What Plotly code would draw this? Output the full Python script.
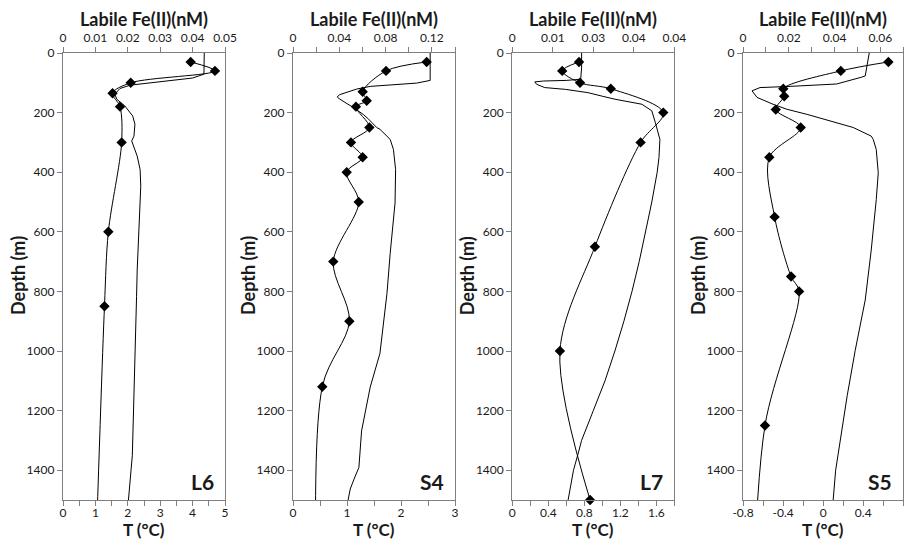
import plotly.graph_objects as go

# ---------------- DATA ----------------
# Station L6
L6_T_depth = [0, 20, 50, 71, 84, 108, 119, 138, 155, 178, 211, 239, 279, 295, 346, 391, 447, 560, 649, 728, 818, 897, 1000, 1100, 1200, 1301, 1350, 1400, 1450, 1500]
L6_T = [4.36, 4.36, 4.36, 4.35, 4.00, 2.07, 1.76, 1.60, 1.66, 1.91, 2.15, 2.22, 2.19, 2.12, 2.29, 2.38, 2.40, 2.35, 2.32, 2.29, 2.27, 2.25, 2.23, 2.21, 2.19, 2.17, 2.14, 2.10, 2.07, 2.02]
L6_Fe_depth = [30, 60, 100, 135, 180, 300, 600, 850, 2000]
L6_Fe = [0.0394, 0.0469, 0.0209, 0.0153, 0.0176, 0.0181, 0.0140, 0.0128, 0.0092]

# Station S4
S4_T_depth = [0, 50, 92, 101, 112, 121, 140, 148, 155, 170, 183, 206, 222, 250, 256, 290, 324, 391, 503, 672, 807, 1008, 1121, 1268, 1391, 1430, 1463, 1500]
S4_T = [2.54, 2.54, 2.54, 2.29, 1.43, 1.18, 0.86, 0.82, 0.87, 1.00, 1.12, 1.30, 1.40, 1.55, 1.61, 1.80, 1.86, 1.90, 1.89, 1.80, 1.74, 1.61, 1.43, 1.27, 1.22, 1.13, 1.06, 1.02]
S4_Fe_depth = [30, 60, 130, 160, 180, 250, 300, 350, 400, 500, 700, 900, 1120, 2000]
S4_Fe = [0.1155, 0.0804, 0.0602, 0.0637, 0.0544, 0.0660, 0.0501, 0.0602, 0.0464, 0.0568, 0.0348, 0.0487, 0.0253, 0.0215]

# Station L7
L7_T_depth = [0, 50, 88, 92, 94, 97, 105, 116, 122, 133, 145, 155, 172, 194, 234, 290, 350, 400, 500, 600, 700, 800, 900, 1000, 1100, 1200, 1300, 1346, 1400, 1450, 1500]
L7_T = [0.77, 0.77, 0.76, 0.60, 0.35, 0.25, 0.27, 0.36, 0.59, 0.84, 1.00, 1.14, 1.44, 1.55, 1.59, 1.64, 1.63, 1.61, 1.55, 1.48, 1.41, 1.33, 1.24, 1.14, 1.03, 0.90, 0.77, 0.73, 0.68, 0.65, 0.62]
L7_Fe_depth = [30, 60, 100, 120, 200, 300, 650, 1000, 1500]
L7_Fe = [0.0206, 0.0154, 0.0209, 0.0304, 0.0466, 0.0396, 0.0255, 0.0147, 0.0240]

# Station S5
S5_T_depth = [0, 43, 77, 81, 104, 112, 116, 127, 149, 172, 189, 206, 228, 250, 279, 290, 324, 402, 492, 661, 829, 998, 1150, 1301, 1400, 1500]
S5_T = [0.46, 0.44, 0.42, 0.385, 0.135, -0.33, -0.63, -0.71, -0.66, -0.50, -0.36, -0.16, 0.07, 0.30, 0.48, 0.50, 0.53, 0.55, 0.53, 0.48, 0.42, 0.32, 0.24, 0.17, 0.125, 0.10]
S5_Fe_depth = [30, 60, 120, 145, 190, 250, 350, 550, 750, 800, 1250, 1900]
S5_Fe = [0.0635, 0.0427, 0.0176, 0.0180, 0.0143, 0.0252, 0.0115, 0.0138, 0.0210, 0.0245, 0.0096, 0.0040]

station_names = ["L6", "S4", "L7", "S5"]
depth_ticks = [0, 200, 400, 600, 800, 1000, 1200, 1400]

# ---------------- LAYOUT ----------------
W, H = 909, 541
FONT = "Lato"
TXT = "#1a1a1a"
AX = "#7f7f7f"

def fx(px):
    return px / W

def fy(py):
    return 1 - py / H

top_px, bot_px = 53, 500
lefts = [63, 293, 512.3, 743]
widths = [162, 162, 162, 160.3]

panels = [
    dict(Td=L6_T_depth, T=L6_T, Fd=L6_Fe_depth, F=L6_Fe,
         trange=[0, 5], tdt=1, tminor=0.5, ttv=None, ttt=None,
         frange=[0, 0.05], fdt=0.01, fminor=None, ftv=None, ftt=None),
    dict(Td=S4_T_depth, T=S4_T, Fd=S4_Fe_depth, F=S4_Fe,
         trange=[0, 3], tdt=1, tminor=0.5, ttv=None, ttt=None,
         frange=[0, 0.14], fdt=None, fminor=0.02,
         ftv=[0, 0.04, 0.08, 0.12], ftt=["0", "0.04", "0.08", "0.12"]),
    dict(Td=L7_T_depth, T=L7_T, Fd=L7_Fe_depth, F=L7_Fe,
         trange=[0, 1.8], tdt=None, tminor=0.2,
         ttv=[0, 0.4, 0.8, 1.2, 1.6], ttt=["0", "0.4", "0.8", "1.2", "1.6"],
         frange=[0, 0.05], fdt=None, fminor=None,
         ftv=[0, 0.0125, 0.025, 0.0375, 0.05], ftt=["0", "0.01", "0.03", "0.04", "0.04"]),
    dict(Td=S5_T_depth, T=S5_T, Fd=S5_Fe_depth, F=S5_Fe,
         trange=[-0.8, 0.8], tdt=None, tminor=0.2,
         ttv=[-0.8, -0.4, 0, 0.4, 0.8], ttt=["-0.8", "-0.4", "0", "0.4", "0.8"],
         frange=[0, 0.07], fdt=None, fminor=0.01,
         ftv=[0, 0.02, 0.04, 0.06], ftt=["0", "0.02", "0.04", "0.06"]),
]

fig = go.Figure()
layout = dict(width=W, height=H, margin=dict(l=0, r=0, t=0, b=0, pad=0, autoexpand=False),
              paper_bgcolor="white", plot_bgcolor="white", showlegend=False,
              font=dict(family=FONT, color=TXT, size=12))
annotations = []

tickfont = dict(family=FONT, size=12, color=TXT)

for i, p in enumerate(panels):
    xt = 2 * i + 1
    xf = 2 * i + 2
    yi = i + 1
    xt_n = "x" if xt == 1 else f"x{xt}"
    xf_n = f"x{xf}"
    y_n = "y" if yi == 1 else f"y{yi}"
    dom = [fx(lefts[i]), fx(lefts[i] + widths[i])]
    ydom = [fy(bot_px), fy(top_px)]

    # temperature profile
    fig.add_trace(go.Scatter(x=p["T"], y=p["Td"], mode="lines",
                             line=dict(color="black", width=1),
                             xaxis=xt_n, yaxis=y_n, hoverinfo="skip"))
    # labile Fe(II) smoothed line
    fig.add_trace(go.Scatter(x=p["F"], y=p["Fd"], mode="lines",
                             line=dict(color="black", width=1, shape="spline", smoothing=0.9),
                             xaxis=xf_n, yaxis=y_n, hoverinfo="skip"))
    # markers (only those within the plotted depth range)
    mx = [f for f, d in zip(p["F"], p["Fd"]) if d <= 1500]
    my = [d for d in p["Fd"] if d <= 1500]
    fig.add_trace(go.Scatter(x=mx, y=my, mode="markers",
                             marker=dict(symbol="diamond", size=8, color="black"),
                             cliponaxis=False, xaxis=xf_n, yaxis=y_n, hoverinfo="skip"))

    xa = dict(domain=dom, anchor=y_n, side="bottom", range=p["trange"], automargin=False,
              showline=True, linecolor=AX, linewidth=1.3, ticks="outside",
              ticklen=5, tickcolor=AX, tickwidth=1, showgrid=False, zeroline=False,
              tickfont=tickfont, ticklabelstandoff=-4)
    if p["ttv"] is not None:
        xa.update(tickmode="array", tickvals=p["ttv"], ticktext=p["ttt"])
    else:
        xa.update(dtick=p["tdt"], tick0=0)
    if p["tminor"]:
        xa["minor"] = dict(dtick=p["tminor"], tick0=p["trange"][0], ticks="outside",
                           ticklen=5, tickcolor=AX, tickwidth=1, showgrid=False)
    layout[f"xaxis{xt}"] = xa

    xb = dict(domain=dom, anchor=y_n, overlaying=xt_n, side="top", range=p["frange"],
              automargin=False,
              showline=True, linecolor=AX, linewidth=1.3, ticks="outside",
              ticklen=5, tickcolor=AX, tickwidth=1, showgrid=False, zeroline=False,
              tickfont=tickfont)
    if p["ftv"] is not None:
        xb.update(tickmode="array", tickvals=p["ftv"], ticktext=p["ftt"])
    else:
        xb.update(dtick=p["fdt"], tick0=0)
    if p["fminor"]:
        xb["minor"] = dict(dtick=p["fminor"], tick0=0, ticks="outside",
                           ticklen=5, tickcolor=AX, tickwidth=1, showgrid=False)
    layout[f"xaxis{xf}"] = xb

    layout[f"yaxis{yi}"] = dict(domain=ydom, anchor=xt_n, range=[1500, 0], automargin=False,
                                tickmode="array", tickvals=depth_ticks,
                                ticktext=[str(v) for v in depth_ticks],
                                showline=True, mirror=True, linecolor=AX, linewidth=1.3,
                                ticks="outside", ticklen=5, tickcolor=AX, tickwidth=1,
                                showgrid=False, zeroline=False, tickfont=tickfont)

    cx = lefts[i] + widths[i] / 2
    annotations.append(dict(text="<b>Labile Fe(II)(nM)</b>", x=fx(cx), y=fy(19),
                            xref="paper", yref="paper", showarrow=False,
                            xanchor="center", yanchor="middle",
                            font=dict(family=FONT, size=18, color=TXT)))
    annotations.append(dict(text="<b>T (°C)</b>", x=fx(cx), y=fy(529),
                            xref="paper", yref="paper", showarrow=False,
                            xanchor="center", yanchor="middle",
                            font=dict(family=FONT, size=17, color=TXT)))
    annotations.append(dict(text="<b>Depth (m)</b>", x=fx(lefts[i] - 45), y=fy(276),
                            xref="paper", yref="paper", showarrow=False, textangle=-90,
                            xanchor="center", yanchor="middle",
                            font=dict(family=FONT, size=18, color=TXT)))
    annotations.append(dict(text=f"<b>{station_names[i]}</b>",
                            x=fx(lefts[i] + widths[i] - 9), y=fy(481),
                            xref="paper", yref="paper", showarrow=False,
                            xanchor="right", yanchor="middle",
                            font=dict(family=FONT, size=21, color=TXT)))

layout["annotations"] = annotations
fig.update_layout(**layout)
fig.write_html("out.html")
